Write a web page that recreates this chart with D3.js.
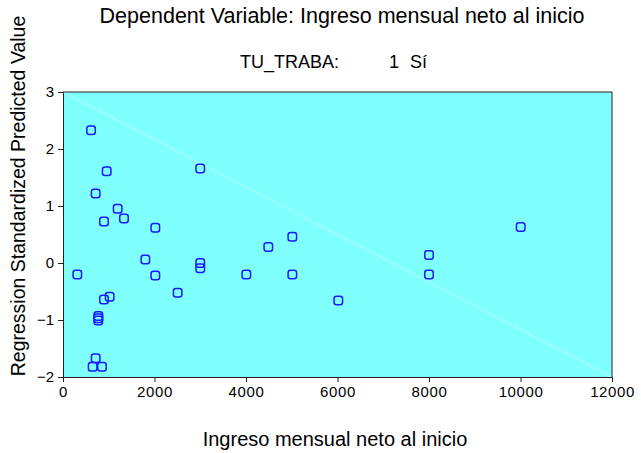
<!DOCTYPE html>
<html><head><meta charset="utf-8">
<script src="https://cdn.jsdelivr.net/npm/d3@7"></script>
<style>body{margin:0;background:#fff}svg{display:block}text{font-family:"Liberation Sans",Arial,sans-serif;fill:#000}</style>
</head><body><svg id="c" width="641" height="453"></svg>
<script>
const income = [613, 955, 714, 1195, 1333, 896, 2018, 3000, 1800, 313, 2018, 3000, 3000, 2506, 4007, 4488, 5013, 5013, 896, 1020, 772, 772, 772, 714, 648, 852, 6018, 8000, 8000, 10004];
const predicted = [2.33, 1.61, 1.22, 0.95, 0.78, 0.73, 0.62, 1.66, 0.06, -0.2, -0.22, 0.0, -0.09, -0.52, -0.2, 0.28, 0.46, -0.2, -0.64, -0.59, -0.93, -0.97, -1.01, -1.67, -1.82, -1.82, -0.66, 0.14, -0.2, 0.63];
const xTicks = [0, 2000, 4000, 6000, 8000, 10000, 12000];
const yTicks = [-2, -1, 0, 1, 2, 3];
const title = "Dependent Variable: Ingreso mensual neto al inicio";
const subtitleParts = ["TU_TRABA:", "1", "Sí"];
const xLabel = "Ingreso mensual neto al inicio";
const yLabel = "Regression Standardized Predicted Value";

const svg = d3.select("#c");
const L = 63, R = 612, T = 92, B = 377;
const x = d3.scaleLinear().domain([0, 12000]).range([L, R]);
const y = d3.scaleLinear().domain([-2, 3]).range([B, T]);

svg.append("rect").attr("x", L).attr("y", T).attr("width", R - L).attr("height", B - T).attr("fill", "#80ffff");
svg.append("line").attr("x1", x(0)).attr("y1", y(3)).attr("x2", x(12000)).attr("y2", y(-2))
  .attr("stroke", "#b0ffff").attr("stroke-width", 1);

const xa = svg.append("g").attr("transform", `translate(0,${B})`)
  .call(d3.axisBottom(x).tickValues(xTicks).tickFormat(d3.format("d")).tickSizeOuter(0).tickSize(5).tickPadding(4));
const ya = svg.append("g").attr("transform", `translate(${L},0)`)
  .call(d3.axisLeft(y).tickValues(yTicks).tickFormat(d3.format("d")).tickSizeOuter(0).tickSize(5).tickPadding(4));
[xa, ya].forEach(a => {
  a.select(".domain").attr("stroke", "#222");
  a.selectAll(".tick line").attr("stroke", "#222");
  a.selectAll("text").attr("font-size", 15).attr("font-family", '"Liberation Sans",Arial,sans-serif').attr("fill", "#000");
});
xa.selectAll("text").attr("letter-spacing", "0.6px");
svg.append("line").attr("x1", L).attr("x2", R).attr("y1", T).attr("y2", T).attr("stroke", "#222");
svg.append("line").attr("x1", R).attr("x2", R).attr("y1", T).attr("y2", B).attr("stroke", "#222");

const s = 8.5;
svg.append("g").selectAll("rect").data(income.map((v, i) => [v, predicted[i]])).join("rect")
  .attr("x", d => x(d[0]) - s / 2).attr("y", d => y(d[1]) - s / 2)
  .attr("width", s).attr("height", s).attr("rx", 2.5)
  .attr("fill", "none").attr("stroke", "#1a1aff").attr("stroke-width", 1.5);

svg.append("text").attr("x", 342).attr("y", 23).attr("text-anchor", "middle").attr("font-size", 21.5).text(title);
const sub = svg.append("g").attr("font-size", 18);
sub.append("text").attr("x", 240).attr("y", 68).text(subtitleParts[0]);
sub.append("text").attr("x", 389).attr("y", 68).text(subtitleParts[1]);
sub.append("text").attr("x", 410).attr("y", 68).text(subtitleParts[2]);
svg.append("text").attr("x", 335).attr("y", 446).attr("text-anchor", "middle").attr("font-size", 20).text(xLabel);
svg.append("text").attr("transform", "translate(25,196) rotate(-90)").attr("text-anchor", "middle").attr("font-size", 19.5).text(yLabel);
</script></body></html>
